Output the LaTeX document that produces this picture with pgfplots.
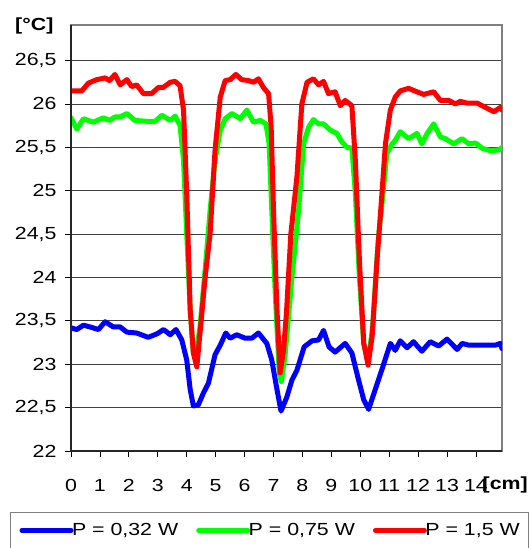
\documentclass[border=0pt]{standalone}
\usepackage{fontspec}
\setmainfont{Liberation Sans}[FakeStretch=1.22]
\usepackage{pgfplots}
\pgfplotsset{compat=1.18}
\definecolor{frame}{RGB}{128,128,128}
\definecolor{sblue}{RGB}{0,0,255}
\definecolor{sgreen}{RGB}{0,255,0}
\definecolor{sred}{RGB}{255,0,0}
\newcommand\lbl{\fontsize{17.5}{21}\selectfont}
\begin{document}
\begin{tikzpicture}
\begin{axis}[at={(0,0)}, anchor=south west, scale only axis,
  width=431pt, height=426pt,
  xmin=0, xmax=14.9, ymin=22, ymax=26.91,
  xtick={0,...,14}, ytick={22,22.5,...,26.5},
  ymajorgrids, grid style={black!75, line width=0.8pt},
  axis line style={frame, line width=1.6pt},
  tick align=outside, xtick pos=bottom, ytick pos=left,
  major tick length=6pt, tick style={black, line width=0.8pt},
  tick label style={font=\lbl},
  xticklabel style={yshift=-19pt},
  yticklabel style={xshift=-5pt},
  /pgf/number format/assume math mode=true,
  /pgf/number format/use comma,
  clip mode=individual,
  legend columns=3,
  legend style={at={(-0.1415,-0.1432)}, anchor=north west, draw=frame,
    line width=1pt, font=\lbl, inner xsep=9pt, inner ysep=9pt,
    nodes={inner xsep=0pt},
    /tikz/every odd column/.append style={column sep=-1.5pt},
    /tikz/every even column/.append style={column sep=18pt}},
  legend image code/.code={\draw[#1] (0pt,0pt) -- (49pt,0pt);},
  every axis plot/.append style={line width=5pt, line join=round, line cap=round},
]
\addplot[sblue] coordinates {
(0,23.42)(0.2,23.40)(0.43,23.45)(0.66,23.43)(0.95,23.40)(1.18,23.49)(1.46,23.43)
(1.70,23.43)(1.93,23.37)(2.27,23.36)(2.67,23.31)(2.97,23.35)(3.2,23.40)(3.43,23.34)
(3.63,23.40)(3.83,23.28)(4.0,23.05)(4.12,22.71)(4.23,22.52)(4.40,22.53)(4.58,22.67)
(4.75,22.78)(4.98,23.11)(5.16,23.22)(5.35,23.36)(5.5,23.30)(5.73,23.34)(6.02,23.30)
(6.25,23.30)(6.48,23.36)(6.77,23.24)(6.94,23.05)(7.12,22.71)(7.26,22.46)(7.46,22.62)
(7.64,22.82)(7.81,22.93)(8.06,23.20)(8.33,23.27)(8.56,23.28)(8.73,23.39)(8.92,23.20)
(9.13,23.14)(9.48,23.24)(9.71,23.13)(9.94,22.82)(10.12,22.59)(10.29,22.48)(10.52,22.71)
(10.75,22.94)(11.04,23.24)(11.21,23.16)(11.38,23.27)(11.62,23.19)(11.84,23.26)
(12.13,23.15)(12.42,23.26)(12.71,23.21)(13.0,23.29)(13.35,23.17)(13.52,23.24)
(13.75,23.22)(14.67,23.22)(14.84,23.24)(14.9,23.18)};
\addlegendentry[inner xsep=0pt]{P = 0,32 W}
\addplot[sgreen] coordinates {
(0,25.84)(0.2,25.71)(0.43,25.83)(0.77,25.79)(1.12,25.84)(1.33,25.81)(1.52,25.85)
(1.70,25.85)(1.93,25.89)(2.21,25.81)(2.62,25.80)(2.91,25.80)(3.14,25.87)(3.43,25.81)
(3.6,25.86)(3.77,25.75)(3.89,25.35)(4.0,24.51)(4.12,23.63)(4.23,23.13)(4.31,23.09)
(4.46,23.43)(4.64,24.1)(4.81,24.78)(4.98,25.35)(5.16,25.70)(5.33,25.83)(5.56,25.89)
(5.85,25.83)(6.08,25.93)(6.31,25.79)(6.54,25.81)(6.74,25.77)(6.85,25.54)(6.94,24.78)
(7.06,23.82)(7.2,22.90)(7.27,22.80)(7.4,23.1)(7.64,24.01)(7.87,24.78)(8.04,25.54)
(8.21,25.73)(8.38,25.82)(8.56,25.77)(8.73,25.77)(8.96,25.70)(9.19,25.66)(9.37,25.56)
(9.54,25.50)(9.71,25.49)(9.83,24.97)(9.97,24.0)(10.12,23.24)(10.27,23.03)(10.43,23.43)
(10.61,24.39)(10.81,25.04)(10.92,25.43)(11.1,25.54)(11.21,25.58)(11.38,25.68)
(11.67,25.60)(11.96,25.66)(12.13,25.54)(12.31,25.66)(12.54,25.77)(12.77,25.62)
(12.94,25.60)(13.23,25.54)(13.52,25.60)(13.75,25.54)(13.98,25.55)(14.21,25.49)
(14.5,25.46)(14.79,25.47)(14.9,25.50)};
\addlegendentry[inner xsep=0pt]{P = 0,75 W}
\addplot[sred] coordinates {
(0,26.15)(0.37,26.15)(0.6,26.24)(0.89,26.28)(1.18,26.30)(1.33,26.27)(1.52,26.34)
(1.70,26.22)(1.93,26.28)(2.1,26.20)(2.27,26.22)(2.5,26.12)(2.79,26.12)(3.02,26.19)
(3.19,26.19)(3.43,26.25)(3.6,26.26)(3.77,26.21)(3.89,25.93)(4.0,24.97)(4.12,23.63)
(4.23,23.13)(4.35,22.97)(4.46,23.36)(4.64,24.01)(4.81,24.51)(4.98,25.47)(5.16,26.08)
(5.33,26.27)(5.5,26.28)(5.70,26.34)(5.9,26.28)(6.13,26.27)(6.31,26.25)(6.48,26.29)
(6.65,26.19)(6.83,26.12)(6.92,25.73)(7.0,24.78)(7.12,23.63)(7.23,22.90)(7.35,23.17)
(7.45,23.6)(7.6,24.5)(7.81,25.16)(7.98,26.0)(8.16,26.25)(8.38,26.29)(8.56,26.22)
(8.73,26.26)(8.9,26.12)(9.13,26.14)(9.31,25.98)(9.48,26.04)(9.71,25.98)(9.83,25.35)
(9.97,24.2)(10.12,23.24)(10.27,22.99)(10.41,23.32)(10.58,24.2)(10.75,24.97)
(10.87,25.54)(11.04,25.93)(11.21,26.08)(11.38,26.15)(11.67,26.18)(11.96,26.14)
(12.19,26.11)(12.54,26.14)(12.77,26.04)(13.06,26.04)(13.29,26.0)(13.46,26.03)
(13.69,26.01)(14.04,26.01)(14.33,25.96)(14.62,25.91)(14.84,25.96)(14.9,25.93)};
\addlegendentry[inner xsep=0pt]{P = 1,5 W}
\draw[black!85, line width=1.3pt] (rel axis cs:0,1) -- (rel axis cs:0,0) -- (rel axis cs:1,0);
\node[font=\lbl\bfseries, anchor=base west, inner sep=0pt]
  at ([yshift=-5.5pt]rel axis cs:-0.1299,1) {[°C]};
\node[font=\lbl\bfseries, anchor=base west, inner sep=0pt]
  at ([yshift=-38.5pt]rel axis cs:0.9548,0) {[cm]};
\end{axis}
\pgfresetboundingbox
\useasboundingbox (-71pt,-97pt) rectangle (458pt,451pt);
\end{tikzpicture}
\end{document}
